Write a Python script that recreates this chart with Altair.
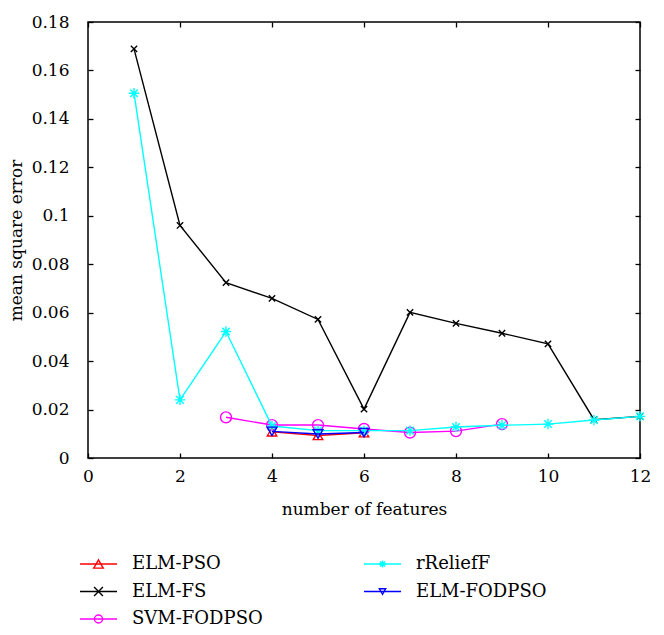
import altair as alt
import pandas as pd

# ---------------- data ----------------
elm_pso_x = [4, 5, 6]
elm_pso_y = [0.0108, 0.0093, 0.0104]

elm_fs_x = [1, 2, 3, 4, 5, 6, 7, 8, 9, 10, 11, 12]
elm_fs_y = [0.1689, 0.0960, 0.0724, 0.0659, 0.0572, 0.0202,
            0.0601, 0.0556, 0.0515, 0.0471, 0.0158, 0.0172]

svm_fodpso_x = [3, 4, 5, 6, 7, 8, 9]
svm_fodpso_y = [0.0168, 0.0136, 0.0136, 0.0120, 0.0105, 0.0111, 0.0140]

rrelieff_x = [1, 2, 3, 4, 5, 6, 7, 8, 9, 10, 11, 12]
rrelieff_y = [0.1506, 0.0240, 0.0522, 0.0132, 0.0113, 0.0113,
              0.0113, 0.0128, 0.0135, 0.0140, 0.0157, 0.0172]

elm_fodpso_x = [4, 5, 6]
elm_fodpso_y = [0.0110, 0.0099, 0.0105]

series_names = ["ELM-PSO", "ELM-FS", "SVM-FODPSO", "rReliefF", "ELM-FODPSO"]
series_colors = ["#ff0000", "#000000", "#ff00ff", "#00ffff", "#0000ff"]
legend_col = [0, 0, 0, 1, 1]
legend_row = [0, 1, 2, 0, 1]

x_ticks = [0, 2, 4, 6, 8, 10, 12]
y_ticks = [0, 0.02, 0.04, 0.06, 0.08, 0.1, 0.12, 0.14, 0.16, 0.18]

# ---------------- styling ----------------
FONT = "DejaVu Serif"
X_PATH = "M-1,-1L1,1M-1,1L1,-1"
AST_PATH = "M-1,0L1,0M0,-1L0,1M-0.72,-0.72L0.72,0.72M-0.72,0.72L0.72,-0.72"
series_shapes = ["triangle-up", X_PATH, "circle", AST_PATH, "triangle-down"]
series_sizes = [90, 40, 120, 110, 95]

W, H = 552, 436

xs = [elm_pso_x, elm_fs_x, svm_fodpso_x, rrelieff_x, elm_fodpso_x]
ys = [elm_pso_y, elm_fs_y, svm_fodpso_y, rrelieff_y, elm_fodpso_y]

x_scale = alt.Scale(domain=[0, 12], nice=False, zero=False)
y_scale = alt.Scale(domain=[0, 0.18], nice=False, zero=False)

axis_common = dict(
    domain=False, grid=False, ticks=True, tickSize=5, tickColor="black",
    tickWidth=1.3, offset=-5, labelFont=FONT, labelFontSize=17,
    labelColor="black", labelFlush=False, labelOverlap=False,
    titleFont=FONT, titleFontSize=17,
    titleColor="black", titleFontWeight="normal",
)
mirror_common = {k: v for k, v in axis_common.items() if not k.startswith("title")}

x_axis_bottom = alt.Axis(orient="bottom", values=x_ticks, labelPadding=10,
                         title="number of features", titlePadding=17,
                         **axis_common)
y_axis_left = alt.Axis(orient="left", values=y_ticks, labelPadding=19,
                       format="~g", title="mean square error",
                       titlePadding=6, **axis_common)
x_axis_top = alt.Axis(orient="top", values=x_ticks, labels=False, title=None,
                      **mirror_common)
y_axis_right = alt.Axis(orient="right", values=y_ticks, labels=False, title=None,
                        **mirror_common)

layers = []
for i, name in enumerate(series_names):
    df = pd.DataFrame({"x": xs[i], "y": ys[i], "series": name})
    base = alt.Chart(df)
    if i == 0:
        xe = alt.X("x:Q", scale=x_scale, axis=x_axis_bottom)
        ye = alt.Y("y:Q", scale=y_scale, axis=y_axis_left)
    else:
        xe = alt.X("x:Q", scale=x_scale, axis=None)
        ye = alt.Y("y:Q", scale=y_scale, axis=None)
    line = base.mark_line(color=series_colors[i], strokeWidth=1.4).encode(x=xe, y=ye)
    pts = base.mark_point(shape=series_shapes[i], filled=False,
                          color=series_colors[i], size=series_sizes[i],
                          strokeWidth=1.4, opacity=1).encode(
        x=alt.X("x:Q", scale=x_scale, axis=None),
        y=alt.Y("y:Q", scale=y_scale, axis=None))
    layers += [line, pts]

# top/right mirrored tick axes (no labels)
frame_df = pd.DataFrame({"x": [0], "y": [0]})
mirror = alt.Chart(frame_df).mark_point(opacity=0).encode(
    x=alt.X("x:Q", scale=x_scale, axis=x_axis_top),
    y=alt.Y("y:Q", scale=y_scale, axis=y_axis_right),
)

main = alt.layer(*layers, mirror).resolve_axis(x="independent", y="independent")

# ---------------- legend (below the plot) ----------------
leg_df = pd.DataFrame({
    "series": series_names,
    "col": legend_col,
    "row": legend_row,
})
leg_base = alt.Chart(leg_df).transform_calculate(
    lx1="-8 + datum.col * 284",
    lx2="29 + datum.col * 284",
    lxm="10.5 + datum.col * 284",
    lxt="44 + datum.col * 284",
    ly="542 + datum.row * 27.5",
)
lxs = alt.Scale(domain=[0, W], nice=False, zero=False)
lys = alt.Scale(domain=[0, H], nice=False, zero=False, reverse=True)
col_enc = alt.Color("series:N", scale=alt.Scale(domain=series_names, range=series_colors),
                    legend=None)
shape_enc = alt.Shape("series:N", scale=alt.Scale(domain=series_names, range=series_shapes),
                      legend=None)
size_enc = alt.Size("series:N", scale=alt.Scale(domain=series_names, range=series_sizes),
                    legend=None)

leg_rule = leg_base.mark_rule(strokeWidth=1.4).encode(
    x=alt.X("lx1:Q", scale=lxs, axis=None),
    x2="lx2:Q",
    y=alt.Y("ly:Q", scale=lys, axis=None),
    color=col_enc,
)
leg_pt = leg_base.mark_point(filled=False, strokeWidth=1.4, opacity=1).encode(
    x=alt.X("lxm:Q", scale=lxs, axis=None),
    y=alt.Y("ly:Q", scale=lys, axis=None),
    color=col_enc, shape=shape_enc, size=size_enc,
)
leg_txt = leg_base.mark_text(align="left", baseline="middle", font=FONT,
                             fontSize=18, color="black").encode(
    x=alt.X("lxt:Q", scale=lxs, axis=None),
    y=alt.Y("ly:Q", scale=lys, axis=None),
    text="series:N",
)
legend = alt.layer(leg_rule, leg_pt, leg_txt)

chart = alt.layer(main, legend).resolve_scale(
    x="independent", y="independent", color="independent",
    shape="independent", size="independent",
).properties(
    width=W, height=H,
    autosize=alt.AutoSizeParams(type="none"),
    padding={"left": 80, "top": 14, "right": 16, "bottom": 169},
    background="white",
).configure_view(stroke="black", strokeWidth=1.5)

chart.save("out.html", embed_options={"renderer": "svg", "actions": False})
